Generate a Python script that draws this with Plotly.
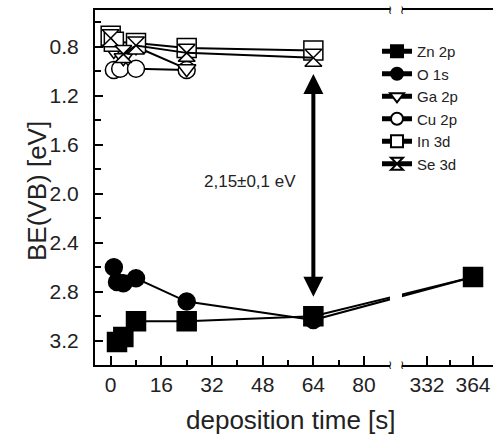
import plotly.graph_objects as go

# ---------------- data ----------------
zn_t = [2, 4, 8, 24, 64, 364]
zn_be = [3.21, 3.17, 3.04, 3.04, 3.00, 2.68]
o_t = [1, 2, 4, 8, 24, 64, 364]
o_be = [2.60, 2.72, 2.73, 2.69, 2.88, 3.03, 2.68]
ga_t = [1, 4, 8, 24]
ga_be = [0.83, 0.89, 0.80, 0.98]
cu_t = [1, 3, 8, 24]
cu_be = [0.99, 0.98, 0.98, 0.99]
in_t = [0, 1, 8, 24, 64]
in_be = [0.71, 0.76, 0.77, 0.81, 0.83]
se_t = [0, 4, 8, 24, 64]
se_be = [0.73, 0.86, 0.79, 0.85, 0.89]

x1_ticks = [0, 16, 32, 48, 64, 80]
x1_minor = [8, 24, 40, 56, 72]
x2_ticks = [332, 364]
x2_minor = [348]
y_ticks = [0.8, 1.2, 1.6, 2.0, 2.4, 2.8, 3.2]
y_minor = [0.6, 1.0, 1.4, 1.8, 2.2, 2.6, 3.0]

gap_label = "2,15\u00b10,1 eV"
arrow_t = 64
arrow_top = 1.01
arrow_bottom = 2.84

# ---------------- layout constants ----------------
W, H = 493, 436
X1_PX = (95, 390)
X2_PX = (402, 493)
Y_PX = (10, 365)
X1_RANGE = [-4.95, 88.2]
X2_RANGE = [314.6, 377.9]
Y_RANGE = [3.398, 0.5]
FONT = "Liberation Sans, Arial, sans-serif"


def lin(v, d0, d1, p0, p1):
    return p0 + (v - d0) * (p1 - p0) / (d1 - d0)


def px1(t):
    return lin(t, X1_RANGE[0], X1_RANGE[1], X1_PX[0], X1_PX[1])


def px2(t):
    return lin(t, X2_RANGE[0], X2_RANGE[1], X2_PX[0], X2_PX[1])


def inv1(p):
    return lin(p, X1_PX[0], X1_PX[1], X1_RANGE[0], X1_RANGE[1])


def inv2(p):
    return lin(p, X2_PX[0], X2_PX[1], X2_RANGE[0], X2_RANGE[1])


fig = go.Figure()

series = [
    # name, t, be, symbol, fill, size, rank
    ("Cu 2p", cu_t, cu_be, "circle", "white", 17, 4),
    ("Ga 2p", ga_t, ga_be, "triangle-down", "white", 16, 3),
    ("In 3d", in_t, in_be, "square", "white", 19, 5),
    ("Se 3d", se_t, se_be, "hourglass", "white", 17, 6),
    ("O 1s", o_t, o_be, "circle", "black", 17, 2),
    ("Zn 2p", zn_t, zn_be, "square", "black", 19, 1),
]

for name, t, be, sym, fill, size, rank in series:
    lt = [a for a in t if a <= X1_RANGE[1]]
    lb = [b for a, b in zip(t, be) if a <= X1_RANGE[1]]
    rt = [a for a in t if a >= X2_RANGE[0]]
    rb = [b for a, b in zip(t, be) if a >= X2_RANGE[0]]
    marker = dict(symbol=sym, size=size, color=fill,
                  line=dict(color="black", width=1.5))
    line = dict(color="black", width=2)
    if lt and rt:
        ta, ya = lt[-1], lb[-1]
        tb, yb = rt[0], rb[0]
        fig.add_trace(go.Scatter(x=[ta, inv1(px2(tb))], y=[ya, yb], mode="lines",
                                 line=line, xaxis="x", yaxis="y",
                                 showlegend=False, hoverinfo="skip"))
        fig.add_trace(go.Scatter(x=[inv2(px1(ta)), tb], y=[ya, yb], mode="lines",
                                 line=line, xaxis="x2", yaxis="y",
                                 showlegend=False, hoverinfo="skip"))
    if rt:
        fig.add_trace(go.Scatter(x=rt, y=rb, mode="lines+markers", marker=marker,
                                 line=line, xaxis="x2", yaxis="y",
                                 showlegend=False))
    fig.add_trace(go.Scatter(x=lt, y=lb, mode="lines+markers", marker=marker,
                             line=line, name=name, legendrank=rank,
                             xaxis="x", yaxis="y"))

axis_common = dict(
    showline=True, linecolor="black", linewidth=2, mirror=True,
    ticks="inside", ticklen=9, tickwidth=1.5, tickcolor="black",
    showgrid=False, zeroline=False,
    tickfont=dict(family=FONT, size=21, color="#222"),
)

fig.update_layout(
    width=W, height=H,
    margin=dict(l=0, r=0, t=0, b=0, pad=0),
    paper_bgcolor="white", plot_bgcolor="white",
    showlegend=True,
    legend=dict(x=377 / W, y=1 - 35 / H, xanchor="left", yanchor="top",
                font=dict(family=FONT, size=15, color="#222"),
                bgcolor="rgba(0,0,0,0)", itemsizing="constant",
                tracegroupgap=0),
    xaxis=dict(domain=[X1_PX[0] / W, X1_PX[1] / W], range=X1_RANGE, anchor="y",
               tickvals=x1_ticks, ticklabelstandoff=0,
               minor=dict(tickvals=x1_minor, ticks="inside", ticklen=5,
                          tickwidth=1.5, tickcolor="black"),
               **axis_common),
    xaxis2=dict(domain=[X2_PX[0] / W, X2_PX[1] / W], range=X2_RANGE, anchor="y",
                tickvals=x2_ticks, ticklabelstandoff=0,
                minor=dict(tickvals=x2_minor, ticks="inside", ticklen=5,
                           tickwidth=1.5, tickcolor="black"),
                **axis_common),
    yaxis=dict(domain=[1 - Y_PX[1] / H, 1 - Y_PX[0] / H], range=Y_RANGE,
               anchor="x", tickvals=y_ticks, tickformat=".1f",
               ticklabelstandoff=10,
               minor=dict(tickvals=y_minor, ticks="inside", ticklen=6,
                          tickwidth=1.5, tickcolor="black"),
               showline=True, linecolor="black", linewidth=2, mirror=False,
               ticks="inside", ticklen=8, tickwidth=1.5, tickcolor="black",
               showgrid=False, zeroline=False,
               tickfont=dict(family=FONT, size=21, color="#222")),
)

# double-headed arrow and its label
fig.add_annotation(x=arrow_t, y=arrow_bottom, ax=arrow_t, ay=arrow_top,
                   xref="x", yref="y", axref="x", ayref="y", text="",
                   showarrow=True, arrowhead=2, startarrowhead=2,
                   arrowside="end+start", arrowwidth=4, arrowsize=1,
                   startarrowsize=1, arrowcolor="black", standoff=0,
                   startstandoff=0)
fig.add_annotation(x=44, y=1.9, xref="x", yref="y", text=gap_label,
                   showarrow=False, font=dict(family=FONT, size=17, color="#222"))

# axis titles
fig.add_annotation(x=291 / W, y=1 - 420 / H, xref="paper", yref="paper",
                   xanchor="center", yanchor="middle",
                   text="deposition time [s]", showarrow=False,
                   font=dict(family=FONT, size=26, color="#222"))
fig.add_annotation(x=37 / W, y=1 - 191 / H, xref="paper", yref="paper",
                   xanchor="center", yanchor="middle",
                   text="BE(VB) [eV]", showarrow=False, textangle=-90,
                   font=dict(family=FONT, size=26, color="#222"))

# axis-break marks
for px in (X1_PX[1], X2_PX[0]):
    for py in Y_PX:
        fig.add_annotation(x=px / W, y=1 - py / H, xref="paper", yref="paper",
                           xanchor="center", yanchor="middle",
                           text="\u2240", showarrow=False,
                           font=dict(family="DejaVu Sans", size=12, color="black"))

fig.write_html("out.html")
